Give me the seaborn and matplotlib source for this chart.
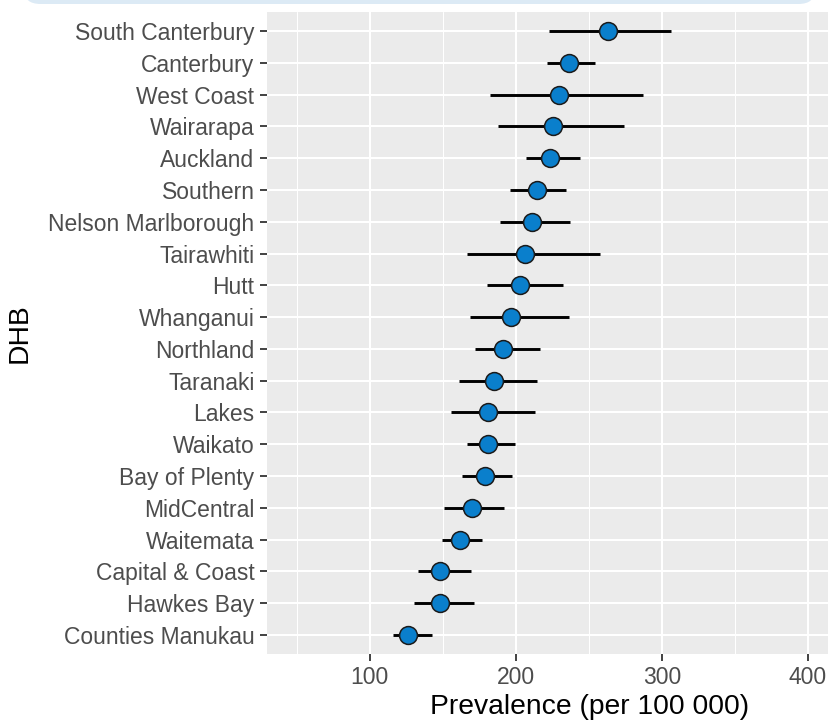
import matplotlib
matplotlib.use("Agg")
import matplotlib.pyplot as plt
import seaborn as sns
import pandas as pd
from matplotlib.patches import FancyBboxPatch
from matplotlib.ticker import FixedLocator

# DHB prevalence with 95% CI, top to bottom as shown
dhb = ["South Canterbury", "Canterbury", "West Coast", "Wairarapa", "Auckland",
       "Southern", "Nelson Marlborough", "Tairawhiti", "Hutt", "Whanganui",
       "Northland", "Taranaki", "Lakes", "Waikato", "Bay of Plenty",
       "MidCentral", "Waitemata", "Capital & Coast", "Hawkes Bay", "Counties Manukau"]
prevalence = [263.2, 236.1, 229.9, 225.4, 223.1, 214.2, 211.2, 206.0, 203.2, 196.8,
              191.3, 185.3, 181.3, 181.1, 178.9, 169.9, 161.9, 148.0, 148.0, 126.4]
lower = [222.9, 221.1, 182.3, 187.6, 206.7, 196.3, 189.1, 166.4, 180.1, 168.7,
         171.9, 161.2, 155.5, 166.4, 163.2, 150.7, 149.8, 133.1, 130.1, 115.7]
upper = [306.5, 254.2, 286.8, 273.9, 244.0, 234.1, 236.8, 257.5, 232.3, 236.6,
         216.9, 214.2, 213.4, 199.8, 197.3, 191.8, 176.9, 169.4, 171.6, 143.0]

df = pd.DataFrame({"DHB": dhb, "prev": prevalence, "lo": lower, "hi": upper})

sns.set_theme(style="darkgrid")
plt.rcParams['font.family'] = ['Liberation Sans', 'DejaVu Sans']

W, H = 829, 721
fig = plt.figure(figsize=(W / 100, H / 100), dpi=100)

# panel runs past the right edge (picture is cropped)
left, right, top, bottom = 267, 913, 12, 654
ax = fig.add_axes([left / W, 1 - bottom / H, (right - left) / W, (bottom - top) / H])
ax.set_facecolor("#EBEBEB")

ax.hlines(df["DHB"], df["lo"], df["hi"], color="black", lw=2.1, zorder=3)
sns.scatterplot(data=df, x="prev", y="DHB", ax=ax, s=165, color="#0A7FCC",
                edgecolor="#1a1a1a", linewidth=1.1, zorder=4, legend=False)

ax.set_xlim(29.8, 471.8)
ax.set_ylim(len(dhb) - 0.4, -0.6)
ax.xaxis.set_major_locator(FixedLocator([100, 200, 300, 400]))
ax.xaxis.set_minor_locator(FixedLocator([50, 150, 250, 350, 450]))
ax.grid(which="major", color="white", lw=1.5)
ax.grid(which="minor", axis="x", color="white", lw=0.75)
ax.set_axisbelow(True)
for s in ax.spines.values():
    s.set_visible(False)

ax.tick_params(axis="both", which="major", length=5, width=1.3, color="#333333",
               labelcolor="#4D4D4D", labelsize=16.5, pad=4, bottom=True, left=True)
ax.tick_params(axis="x", which="minor", length=0)

ax.set_xlabel("Prevalence (per 100 000)", fontsize=20.3, color="black")
ax.set_ylabel("DHB", fontsize=20.3, color="black")
ax.xaxis.set_label_coords(0.5, -0.062)
ax.yaxis.set_label_coords((33 - left) / (right - left), 0.5)

# light blue band across the top
band = FancyBboxPatch((24 / W, 1 - 4 / H), (815 - 24) / W, 20 / H,
                      boxstyle="round,pad=0,rounding_size=0.02",
                      transform=fig.transFigure, facecolor="#DCEAF5",
                      edgecolor="none", clip_on=False)
fig.patches.append(band)

fig.savefig("out.png", dpi=100)
